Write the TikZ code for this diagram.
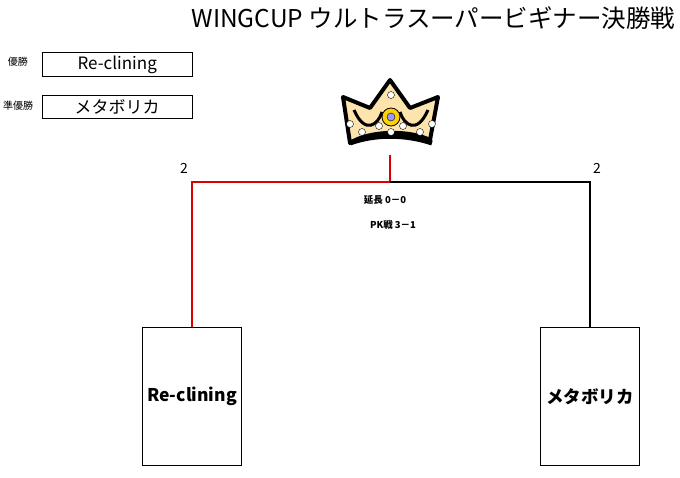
\documentclass[tikz,border=0pt]{standalone}
\usepackage{fontspec}
\setmainfont{Noto Sans CJK JP}
\begin{document}
\begin{tikzpicture}[x=1pt,y=-1pt,
	namebox/.style={draw, minimum width=150pt, minimum height=23pt, font=\fontsize{17}{17}\selectfont},
	teambox/.style={draw, line width=1pt, minimum width=99pt, minimum height=138pt, font=\bfseries\fontsize{17.5}{17.5}\selectfont},
	small/.style={font=\fontsize{10}{10}\selectfont},
	win/.style={red!85!black, line width=1.3pt},
	lose/.style={black, line width=1.3pt}]
	\useasboundingbox (0,0) rectangle (680,478);

	\node[anchor=east, font=\fontsize{24.5}{24.5}\selectfont] (title) at (679,18) {WINGCUP ウルトラスーパービギナー決勝戦};

	\node[small] (l1) at (18,62) {優勝};
	\node[namebox, anchor=north west] (b1) at (42,52) {Re-clining};
	\node[small] (l2) at (18,106) {準優勝};
	\node[namebox, anchor=north west] (b2) at (42,95) {メタボリカ};

	% crown
	\filldraw[fill=yellow!35!orange!30, line width=4pt, line join=round]
		(343,97) -- (370,108) -- (390,80) -- (410,108) -- (438,97)
		-- (430,140) .. controls (410,130) and (370,130) .. (350,143) -- cycle;
	\draw[line width=5pt] (350,143) .. controls (375,134) and (405,134) .. (432,143);
	\draw[line width=3pt] (354,110) .. controls (365,135) and (378,125) .. (382,112);
	\draw[line width=3pt] (428,110) .. controls (417,135) and (404,125) .. (400,112);
	\filldraw[fill=yellow!70!orange, draw=black, thick] (391,117) circle (9pt);
	\filldraw[fill=blue!40, draw=black] (391,117) circle (4pt);
	\foreach \cx/\cy in {350/124, 432/124, 362/132, 420/132, 391/95, 379/126, 403/126, 391/132}
		\filldraw[fill=white, draw=black] (\cx,\cy) circle (3.5pt);

	\coordinate (top) at (390,155);
	\coordinate (mid) at (390,182);
	\node[teambox, anchor=north] (t1) at (192,327) {Re-clining};
	\node[teambox, anchor=north] (t2) at (590,327) {メタボリカ};

	\draw[win] (top) -- (mid) -| (t1.north);
	\draw[lose] (mid) -| (t2.north);

	\node[font=\fontsize{14}{14}\selectfont] (s1) at (184,168) {2};
	\node[font=\fontsize{14}{14}\selectfont] (s2) at (597,168) {2};
	\node[font=\bfseries\fontsize{9.5}{9.5}\selectfont] (ex) at (385,200) {延長 0－0};
	\node[font=\bfseries\fontsize{9.5}{9.5}\selectfont] (pk) at (393,225) {PK戦 3－1};
\end{tikzpicture}
\end{document}
